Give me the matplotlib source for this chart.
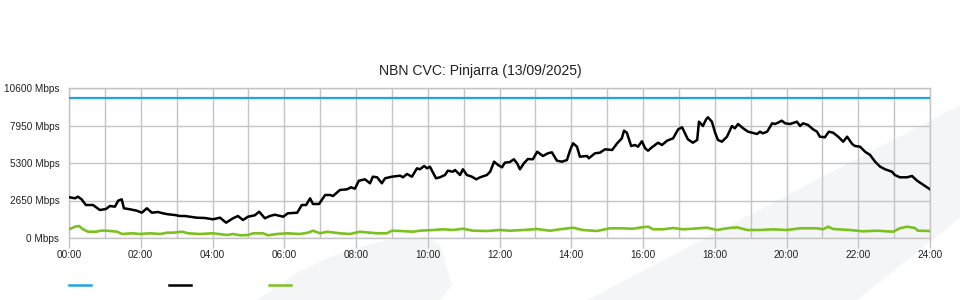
import matplotlib
matplotlib.use("Agg")
import matplotlib.pyplot as plt
from matplotlib.lines import Line2D
from matplotlib.patches import Polygon

plt.rcParams['font.family'] = ['Liberation Sans', 'DejaVu Sans']

title = "NBN CVC: Pinjarra (13/09/2025)"

# capacity (blue), flat
cap_hours = [0, 24]
cap_mbps = [9900, 9900]

# download traffic (black)
dl_hours = [0.0, 0.17, 0.25, 0.35, 0.47, 0.67, 0.86, 1.03, 1.14, 1.28, 1.37, 1.47, 1.53, 1.70,
            1.89, 2.03, 2.17, 2.31, 2.48, 2.62, 2.76, 2.95, 3.09, 3.23, 3.37, 3.56, 3.79, 4.01,
            4.21, 4.38, 4.57, 4.71, 4.85, 4.99, 5.18, 5.30, 5.46, 5.60, 5.74, 5.97, 6.10, 6.36,
            6.49, 6.61, 6.72, 6.80, 6.97, 7.14, 7.28, 7.36, 7.55, 7.75, 7.86, 7.97, 8.08, 8.25,
            8.39, 8.47, 8.59, 8.72, 8.81, 9.00, 9.23, 9.31, 9.42, 9.56, 9.70, 9.78, 9.90, 9.98,
            10.06, 10.23, 10.34, 10.48, 10.56, 10.70, 10.76, 10.90, 10.98, 11.09, 11.23, 11.35,
            11.46, 11.65, 11.74, 11.85, 11.96, 12.07, 12.15, 12.29, 12.40, 12.49, 12.57, 12.68,
            12.79, 12.93, 13.05, 13.21, 13.35, 13.46, 13.60, 13.74, 13.88, 13.97, 14.05, 14.16,
            14.24, 14.44, 14.49, 14.66, 14.80, 14.94, 15.14, 15.28, 15.41, 15.47, 15.55, 15.67,
            15.78, 15.86, 15.97, 16.06, 16.14, 16.25, 16.42, 16.53, 16.67, 16.84, 16.98, 17.09,
            17.17, 17.25, 17.39, 17.51, 17.56, 17.67, 17.76, 17.81, 17.92, 18.01, 18.09, 18.20,
            18.34, 18.48, 18.56, 18.65, 18.79, 18.93, 19.04, 19.18, 19.26, 19.34, 19.46, 19.60,
            19.68, 19.76, 19.87, 19.96, 20.10, 20.29, 20.38, 20.46, 20.60, 20.74, 20.85, 20.93,
            21.07, 21.18, 21.30, 21.44, 21.58, 21.69, 21.83, 21.91, 22.05, 22.19, 22.33, 22.47,
            22.61, 22.75, 22.94, 23.02, 23.16, 23.36, 23.50, 23.64, 23.78, 23.86, 24.0]
dl_mbps = [2880, 2806, 2919, 2735, 2332, 2332, 1979, 2049, 2261, 2212, 2636, 2735, 2099, 2028,
           1929, 1788, 2099, 1788, 1837, 1745, 1675, 1625, 1555, 1555, 1505, 1435, 1413, 1321,
           1435, 1081, 1392, 1555, 1272, 1505, 1604, 1859, 1392, 1555, 1647, 1505, 1745, 1788,
           2332, 2332, 2806, 2403, 2403, 3039, 3039, 2968, 3392, 3441, 3583, 3484, 4049, 4148,
           3866, 4332, 4290, 3866, 4219, 4332, 4403, 4290, 4523, 4332, 4926, 4855, 5088, 4926,
           5039, 4219, 4290, 4452, 4756, 4685, 4806, 4452, 4855, 4452, 4332, 4148,
           4290, 4452, 4685, 5392, 5159, 4996, 5321, 5371, 5562, 5279, 4855, 5279,
           5583, 5562, 6099, 5795, 5986, 6056, 5463, 5392, 5512, 6219, 6692, 6452,
           5745, 5795, 5632, 5986, 6028, 6268, 6219, 6692, 7046, 7583, 7441, 6501,
           6572, 6452, 6834, 6339, 6169, 6410, 6735, 6572, 6876, 7046, 7682, 7823,
           7399, 6975, 6735, 6926, 8219, 7915, 8389, 8530, 8219, 7441, 6926, 6805,
           7159, 7915, 7752, 8056, 7752, 7512, 7441, 7350, 7512, 7399, 7512, 8106,
           8056, 8148, 8289, 8106, 8056, 8219, 7915, 8106, 7986, 7682, 7512, 7159,
           7116, 7512, 7441, 7159, 6805, 7159, 6643, 6501, 6452, 6099, 5866, 5392,
           5039, 4855, 4685, 4452, 4290, 4290, 4382, 4049, 3816, 3675, 3441]

# upload traffic (green)
ul_hours = [0.0, 0.17, 0.28, 0.39, 0.53, 0.78, 0.86, 1.06, 1.34, 1.48, 1.76, 1.98, 2.26, 2.54,
            2.73, 2.90, 3.15, 3.32, 3.65, 4.01, 4.40, 4.57, 4.77, 4.99, 5.13, 5.41, 5.55, 5.80,
            6.08, 6.44, 6.66, 6.80, 7.00, 7.19, 7.55, 7.83, 8.11, 8.39, 8.59, 8.86, 9.00, 9.23,
            9.59, 9.78, 10.15, 10.43, 10.70, 10.98, 11.26, 11.65, 12.01, 12.29, 12.66, 13.04,
            13.41, 13.69, 14.05, 14.32, 14.72, 15.08, 15.36, 15.72, 15.97, 16.15, 16.28, 16.56,
            16.84, 17.12, 17.40, 17.78, 18.06, 18.34, 18.62, 18.90, 19.26, 19.62, 20.01, 20.38,
            20.85, 21.02, 21.16, 21.30, 21.77, 22.13, 22.52, 22.97, 23.16, 23.36, 23.58, 23.66, 24.0]
ul_mbps = [615, 800, 848, 615, 445, 445, 516, 516, 445, 283, 332, 283, 332, 283,
           375, 375, 445, 332, 283, 332, 212, 283, 191, 212, 332, 332, 191, 283,
           332, 283, 375, 516, 332, 445, 332, 283, 445, 375, 332, 332, 516, 495,
           445, 516, 565, 615, 565, 657, 516, 495, 565, 516, 565, 636,
           516, 615, 728, 565, 495, 686, 686, 657, 756, 800, 615, 615,
           707, 615, 657, 728, 565, 686, 756, 565, 565, 615, 565, 686,
           686, 615, 800, 636, 565, 473, 516, 445, 686, 800, 707, 516, 495]

y_ticks = [0, 2650, 5300, 7950, 10600]
x_ticks = list(range(0, 25, 2))
x_labels = ["%02d:00" % h for h in x_ticks]

colors = ['#23a2e0', '#000000', '#7cc11f']
grid_c = '#c4c4c4'

fig = plt.figure(figsize=(9.6, 3.0), dpi=100)

# faint watermark shapes in the background
wm = '#f4f5f7'
shape_a = [(257, 300), (300, 271), (340, 253), (370, 244), (395, 239), (415, 238),
           (432, 240), (441, 246), (446, 265), (452, 285), (440, 300)]
shape_b = [(587, 300), (960, 105), (960, 218), (857, 300)]
for shp in (shape_a, shape_b):
    pts = [(x / 960, (300 - y) / 300) for x, y in shp]
    fig.add_artist(Polygon(pts, closed=True, facecolor=wm, edgecolor='none',
                           transform=fig.transFigure, zorder=0))

ax = fig.add_axes([69 / 960, 62 / 300, 861 / 960, 150 / 300])
ax.set_facecolor('none')

ax.plot(cap_hours, cap_mbps, color=colors[0], lw=1.6, zorder=3)
ax.plot(dl_hours, dl_mbps, color=colors[1], lw=1.8, zorder=4)
ax.plot(ul_hours, ul_mbps, color=colors[2], lw=1.9, zorder=3)

ax.set_xlim(0, 24)
ax.set_ylim(0, 10600)
ax.set_xticks(x_ticks)
ax.set_xticklabels(x_labels)
ax.set_xticks(range(0, 25), minor=True)
ax.set_yticks(y_ticks)
ax.set_yticklabels(["%d Mbps" % v for v in y_ticks])

ax.grid(True, which='both', color=grid_c, lw=1.0, zorder=1)
for s in ax.spines.values():
    s.set_color(grid_c)
    s.set_linewidth(1.0)

ax.tick_params(axis='x', which='major', length=7, color=grid_c, width=1.0,
               labelsize=7.2, pad=1.5, labelcolor='#222222')
ax.tick_params(axis='x', which='minor', length=0)
ax.tick_params(axis='y', length=0, labelsize=7.2, pad=7, labelcolor='#222222')

fig.text(0.5, (300 - 71) / 300, title, ha='center', va='center', fontsize=10.1,
         color='#222222')

# legend markers with no labels
for i, c in enumerate(colors):
    x0 = (69 + 100 * i) / 960
    fig.add_artist(Line2D([x0, x0 + 22 / 960], [0.05, 0.05], color=c, lw=1.8,
                          transform=fig.transFigure))

fig.savefig("out.png", dpi=100)
